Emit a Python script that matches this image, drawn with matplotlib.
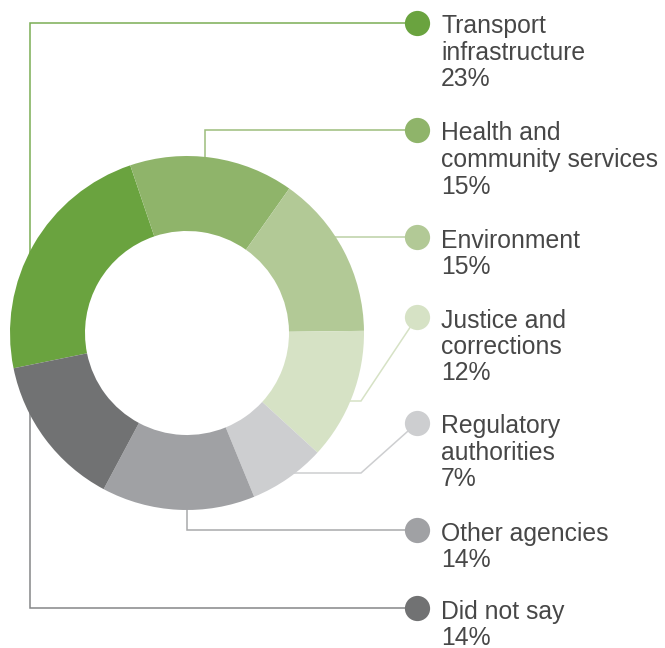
import matplotlib.pyplot as plt

plt.rcParams['font.family'] = ['Liberation Sans', 'DejaVu Sans']

# Share of responses by sector
labels = ['Transport\ninfrastructure', 'Health and\ncommunity services', 'Environment',
          'Justice and\ncorrections', 'Regulatory\nauthorities', 'Other agencies', 'Did not say']
shares = [23, 15, 15, 12, 7, 14, 14]
colors = ['#6aa33f', '#8fb46a', '#b2c996', '#d6e2c5', '#cdced0', '#a0a1a4', '#717273']

W, H = 665, 648
fig = plt.figure(figsize=(W / 100, H / 100), dpi=100, facecolor='white')
ax = fig.add_axes([0, 0, 1, 1])

def flip(y):
    # work in pixel rows measured from the top
    return H - y

cx, cy = 187, 333
R, ring = 177, 75

ax.pie(shares, colors=colors, startangle=191.5, counterclock=False,
       center=(cx, flip(cy)), radius=R,
       wedgeprops=dict(width=ring, linewidth=0), frame=True)

# legend dot rows and their leader lines
dot_x = 417
dot_y = [23, 130, 237, 317, 423, 530, 608]
leaders = [
    [(dot_x, 23), (30, 23), (30, 290)],
    [(dot_x, 130), (205, 130), (205, 175)],
    [(dot_x, 237), (330, 237)],
    [(dot_x, 317), (361, 401), (335, 401)],
    [(dot_x, 423), (361, 473), (285, 473)],
    [(dot_x, 530), (187, 530), (187, 490)],
    [(dot_x, 608), (30, 608), (30, 390)],
]
line_colors = ['#7aad55', '#9cbd7c', '#bcd1a5', '#d6e2c5', '#cdced0', '#a8a9ab', '#858688']

for pts, lc in zip(leaders, line_colors):
    xs = [p[0] for p in pts]
    ys = [flip(p[1]) for p in pts]
    ax.plot(xs, ys, color=lc, lw=1.1, zorder=0, solid_joinstyle='miter')

text_color = '#474747'
for lab, val, yd, c in zip(labels, shares, dot_y, colors):
    ax.scatter([dot_x], [flip(yd)], s=330, color=c, linewidths=0, zorder=3)
    rows = lab.split('\n') + [f'{val}%']
    for k, row in enumerate(rows):
        ax.text(441, flip(yd + 10.5 + 26.5 * k), row, fontsize=17.8, color=text_color,
                ha='left', va='baseline')

ax.set_xlim(0, W)
ax.set_ylim(0, H)
ax.set_aspect('equal')
ax.axis('off')

fig.savefig('out.png', dpi=100, facecolor='white')
